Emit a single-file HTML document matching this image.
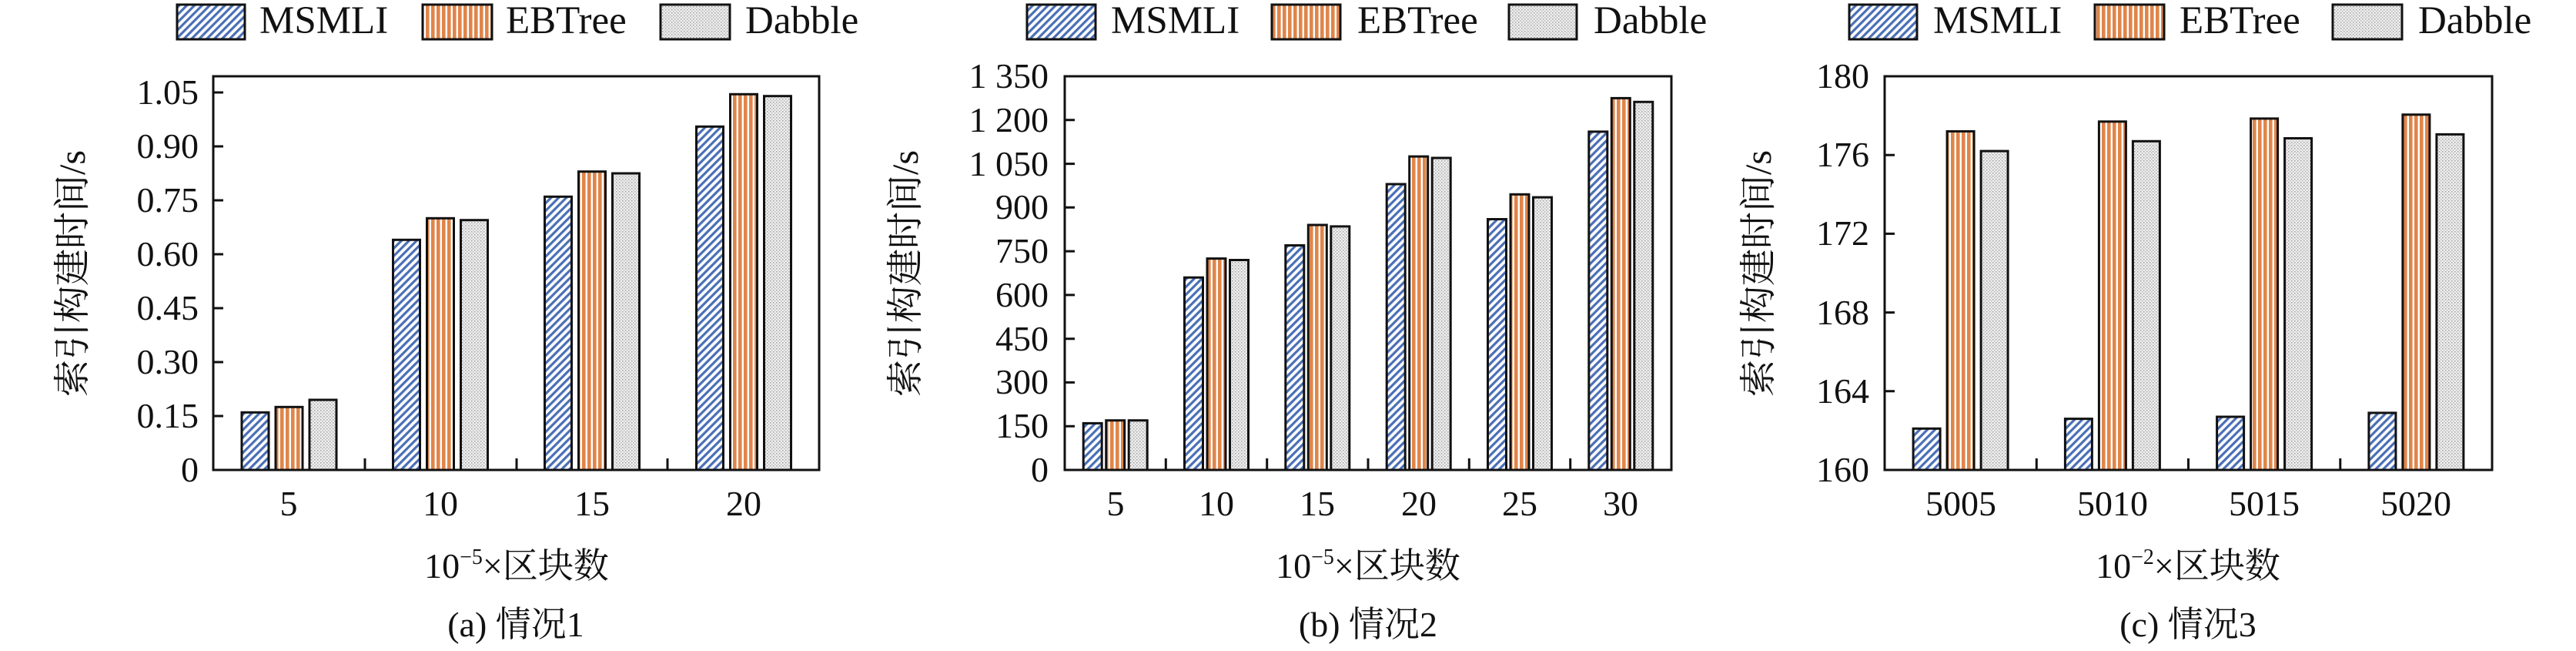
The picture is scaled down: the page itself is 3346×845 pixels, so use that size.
<!DOCTYPE html>
<html><head><meta charset="utf-8"><style>
html,body{margin:0;padding:0;background:#fff}
svg{display:block}
svg text{font-family:"Liberation Serif","Times New Roman",Times,"Noto Serif CJK SC",serif !important;fill:#111}
</style></head><body>
<svg width="3346" height="845" viewBox="0 0 3346 845" xmlns="http://www.w3.org/2000/svg" font-family="Liberation Serif, Times New Roman, Noto Serif CJK SC, serif">
<defs>
<pattern id="pb" patternUnits="userSpaceOnUse" width="7" height="7" patternTransform="rotate(45)">
<rect width="7" height="7" fill="#fff"/><rect x="0" y="0" width="3.2" height="7" fill="#4a6fb5"/></pattern>
<pattern id="po" patternUnits="userSpaceOnUse" width="7" height="7">
<rect width="7" height="7" fill="#fff"/><rect x="0" y="0" width="4.6" height="7" fill="#e0854a"/></pattern>
<pattern id="pg" patternUnits="userSpaceOnUse" width="4" height="4">
<rect width="4" height="4" fill="#eeeeee"/><rect width="1.5" height="1.5" fill="#a0a0a0"/><rect x="2" y="2" width="1.5" height="1.5" fill="#b8b8b8"/></pattern>
</defs>

<g stroke="#111" stroke-width="3">
<rect x="230" y="6" width="88" height="45" fill="url(#pb)"/>
<rect x="549" y="6" width="90" height="45" fill="url(#po)"/>
<rect x="858" y="6" width="90" height="45" fill="url(#pg)"/>
<rect x="1334" y="6" width="89" height="45" fill="url(#pb)"/>
<rect x="1652" y="6" width="89" height="45" fill="url(#po)"/>
<rect x="1960" y="6" width="88" height="45" fill="url(#pg)"/>
<rect x="2402" y="6" width="88" height="45" fill="url(#pb)"/>
<rect x="2721" y="6" width="90" height="45" fill="url(#po)"/>
<rect x="3030" y="6" width="90" height="45" fill="url(#pg)"/>
</g>
<g font-size="51">
<text x="337" y="43">MSMLI</text><text x="657" y="43">EBTree</text><text x="968" y="43">Dabble</text>
<text x="1443" y="43">MSMLI</text><text x="1763" y="43">EBTree</text><text x="2070" y="43">Dabble</text>
<text x="2511" y="43">MSMLI</text><text x="2831" y="43">EBTree</text><text x="3141" y="43">Dabble</text>
</g>

<g stroke="#111" stroke-width="3">
<rect x="314" y="535.3" width="35" height="74.7" fill="url(#pb)"/>
<rect x="358" y="528.3" width="35" height="81.7" fill="url(#po)"/>
<rect x="402" y="519" width="35" height="91" fill="url(#pg)"/>
<rect x="510.5" y="311.3" width="35" height="298.7" fill="url(#pb)"/>
<rect x="554.5" y="283.3" width="35" height="326.7" fill="url(#po)"/>
<rect x="598.5" y="285.7" width="35" height="324.3" fill="url(#pg)"/>
<rect x="707.5" y="255.3" width="35" height="354.7" fill="url(#pb)"/>
<rect x="751.5" y="222.7" width="35" height="387.3" fill="url(#po)"/>
<rect x="795.5" y="225" width="35" height="385" fill="url(#pg)"/>
<rect x="904.5" y="164.3" width="35" height="445.7" fill="url(#pb)"/>
<rect x="948.5" y="122.3" width="35" height="487.7" fill="url(#po)"/>
<rect x="992.5" y="124.7" width="35" height="485.3" fill="url(#pg)"/>
<rect x="277" y="99" width="787" height="511" fill="none"/>
<path d="M277 540h13M277 470h13M277 400h13M277 330h13M277 260h13M277 190h13M277 120h13M474 610v-15M671 610v-15M867 610v-15" fill="none"/>
</g>
<g font-size="46" text-anchor="end">
<text x="258" y="625">0</text><text x="258" y="555">0.15</text><text x="258" y="485">0.30</text><text x="258" y="415">0.45</text>
<text x="258" y="345">0.60</text><text x="258" y="275">0.75</text><text x="258" y="205">0.90</text><text x="258" y="135">1.05</text>
</g>
<g font-size="46" text-anchor="middle">
<text x="375" y="669">5</text><text x="572" y="669">10</text><text x="769" y="669">15</text><text x="966" y="669">20</text>
<text x="671" y="750">10<tspan font-size="28" dy="-18">−5</tspan><tspan dy="18">×区块数</tspan></text>
<text x="670" y="826">(a) 情况1</text>
</g>
<text font-size="48" text-anchor="middle" transform="translate(110,355) rotate(-90)">索引构建时间/s</text>

<g stroke="#111" stroke-width="3">
<rect x="1407.2" y="549.4" width="24" height="60.6" fill="url(#pb)"/>
<rect x="1436.7" y="545.7" width="24" height="64.3" fill="url(#po)"/>
<rect x="1466.2" y="545.7" width="24" height="64.3" fill="url(#pg)"/>
<rect x="1538.5" y="360.2" width="24" height="249.8" fill="url(#pb)"/>
<rect x="1568" y="335.6" width="24" height="274.4" fill="url(#po)"/>
<rect x="1597.5" y="337.5" width="24" height="272.5" fill="url(#pg)"/>
<rect x="1669.8" y="318.5" width="24" height="291.5" fill="url(#pb)"/>
<rect x="1699.3" y="292" width="24" height="318" fill="url(#po)"/>
<rect x="1728.8" y="293.9" width="24" height="316.1" fill="url(#pg)"/>
<rect x="1801.2" y="239" width="24" height="371" fill="url(#pb)"/>
<rect x="1830.7" y="203.1" width="24" height="406.9" fill="url(#po)"/>
<rect x="1860.2" y="205" width="24" height="405" fill="url(#pg)"/>
<rect x="1932.5" y="284.5" width="24" height="325.5" fill="url(#pb)"/>
<rect x="1962" y="252.3" width="24" height="357.7" fill="url(#po)"/>
<rect x="1991.5" y="256.1" width="24" height="353.9" fill="url(#pg)"/>
<rect x="2063.8" y="170.9" width="24" height="439.1" fill="url(#pb)"/>
<rect x="2093.3" y="127.4" width="24" height="482.6" fill="url(#po)"/>
<rect x="2122.8" y="132.3" width="24" height="477.7" fill="url(#pg)"/>
<rect x="1383" y="99" width="788" height="511" fill="none"/>
<path d="M1383 553.2h13M1383 496.4h13M1383 439.7h13M1383 382.9h13M1383 326.1h13M1383 269.3h13M1383 212.6h13M1383 155.8h13M1514.3 610v-15M1645.7 610v-15M1777 610v-15M1908.3 610v-15M2039.7 610v-15" fill="none"/>
</g>
<g font-size="46" text-anchor="end">
<text x="1362" y="625">0</text><text x="1362" y="568">150</text><text x="1362" y="511">300</text><text x="1362" y="455">450</text>
<text x="1362" y="398">600</text><text x="1362" y="341">750</text><text x="1362" y="284">900</text><text x="1362" y="228">1 050</text>
<text x="1362" y="171">1 200</text><text x="1362" y="114">1 350</text>
</g>
<g font-size="46" text-anchor="middle">
<text x="1449" y="669">5</text><text x="1580" y="669">10</text><text x="1711" y="669">15</text><text x="1843" y="669">20</text>
<text x="1974" y="669">25</text><text x="2105" y="669">30</text>
<text x="1777" y="750">10<tspan font-size="28" dy="-18">−5</tspan><tspan dy="18">×区块数</tspan></text>
<text x="1777" y="826">(b) 情况2</text>
</g>
<text font-size="48" text-anchor="middle" transform="translate(1192,355) rotate(-90)">索引构建时间/s</text>

<g stroke="#111" stroke-width="3">
<rect x="2485.1" y="556.3" width="35" height="53.7" fill="url(#pb)"/>
<rect x="2529.1" y="170.5" width="35" height="439.5" fill="url(#po)"/>
<rect x="2573.1" y="196.1" width="35" height="413.9" fill="url(#pg)"/>
<rect x="2682.4" y="543.6" width="35" height="66.4" fill="url(#pb)"/>
<rect x="2726.4" y="157.8" width="35" height="452.2" fill="url(#po)"/>
<rect x="2770.4" y="183.3" width="35" height="426.7" fill="url(#pg)"/>
<rect x="2879.6" y="541" width="35" height="69" fill="url(#pb)"/>
<rect x="2923.6" y="153.9" width="35" height="456.1" fill="url(#po)"/>
<rect x="2967.6" y="179.5" width="35" height="430.5" fill="url(#pg)"/>
<rect x="3076.9" y="535.9" width="35" height="74.1" fill="url(#pb)"/>
<rect x="3120.9" y="148.8" width="35" height="461.2" fill="url(#po)"/>
<rect x="3164.9" y="174.4" width="35" height="435.6" fill="url(#pg)"/>
<rect x="2448" y="99" width="789" height="511" fill="none"/>
<path d="M2448 507.8h13M2448 405.6h13M2448 303.4h13M2448 201.2h13M2645.3 610v-15M2842.5 610v-15M3039.8 610v-15" fill="none"/>
</g>
<g font-size="46" text-anchor="end">
<text x="2428" y="625">160</text><text x="2428" y="523">164</text><text x="2428" y="421">168</text>
<text x="2428" y="318">172</text><text x="2428" y="216">176</text><text x="2428" y="114">180</text>
</g>
<g font-size="46" text-anchor="middle">
<text x="2547" y="669">5005</text><text x="2744" y="669">5010</text><text x="2941" y="669">5015</text><text x="3138" y="669">5020</text>
<text x="2842" y="750">10<tspan font-size="28" dy="-18">−2</tspan><tspan dy="18">×区块数</tspan></text>
<text x="2842" y="826">(c) 情况3</text>
</g>
<text font-size="48" text-anchor="middle" transform="translate(2300,355) rotate(-90)">索引构建时间/s</text>
</svg>
</body></html>
